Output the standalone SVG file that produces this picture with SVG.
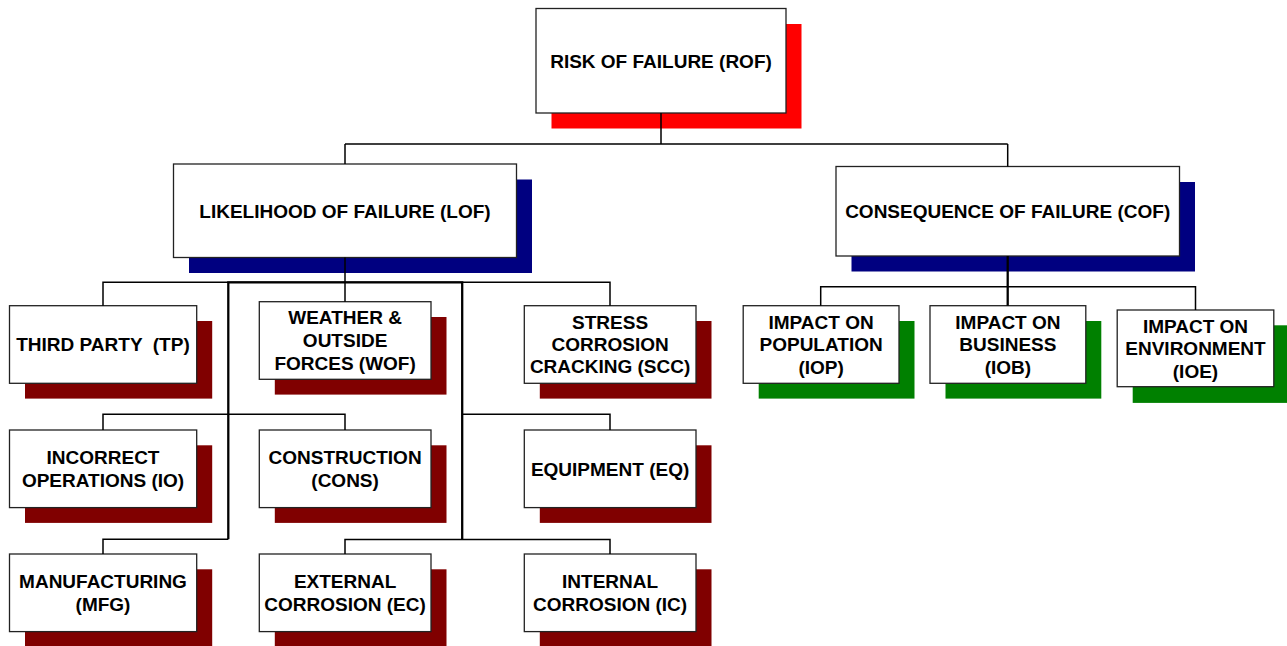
<svg xmlns="http://www.w3.org/2000/svg" width="1287" height="646" viewBox="0 0 1287 646">
<style>
.box{fill:#ffffff;stroke:#222222;stroke-width:1.3}
.sr{fill:#ff0000}
.sb{fill:#000080}
.sm{fill:#800000}
.sg{fill:#008000}
text{font-family:"Liberation Sans",Arial,sans-serif;font-weight:bold;font-size:19px;fill:#000000;text-anchor:middle}
.ln{fill:none;stroke:#000000;stroke-width:1.5}
.fr{fill:none;stroke:#000000;stroke-width:2.3}
</style>
<rect width="1287" height="646" fill="#ffffff"/>
<g id="rof">
<rect class="sr" x="551.5" y="24" width="250" height="104.5"/>
<rect class="box" x="536" y="8.5" width="250" height="104.5"/>
<text x="661" y="67.5">RISK OF FAILURE (ROF)</text>
</g>
<g id="lof">
<rect class="sb" x="189" y="179.5" width="343" height="93.5"/>
<rect class="box" x="173.5" y="164" width="343" height="93.5"/>
<text x="345" y="217.5">LIKELIHOOD OF FAILURE (LOF)</text>
</g>
<g id="cof">
<rect class="sb" x="851.5" y="182" width="343.5" height="89.5"/>
<rect class="box" x="836" y="166.5" width="343.5" height="89.5"/>
<text x="1007.7" y="218">CONSEQUENCE OF FAILURE (COF)</text>
</g>
<g id="tp">
<rect class="sm" x="25" y="321" width="187.2" height="77.6"/>
<rect class="box" x="9.5" y="305.7" width="187.2" height="77.6"/>
<text x="103" y="351.3" style="white-space:pre" xml:space="preserve">THIRD PARTY  (TP)</text>
</g>
<g id="wof">
<rect class="sm" x="274.8" y="317" width="171.7" height="77.6"/>
<rect class="box" x="259.3" y="301.7" width="171.7" height="77.6"/>
<text x="345.1" y="324.4">WEATHER &amp;</text>
<text x="345.1" y="347">OUTSIDE</text>
<text x="345.1" y="369.6">FORCES (WOF)</text>
</g>
<g id="scc">
<rect class="sm" x="539.8" y="321" width="171.7" height="77.6"/>
<rect class="box" x="524.3" y="305.7" width="171.7" height="77.6"/>
<text x="610.1" y="328.5">STRESS</text>
<text x="610.1" y="351">CORROSION</text>
<text x="610.1" y="373.4">CRACKING (SCC)</text>
</g>
<g id="io">
<rect class="sm" x="25" y="445.3" width="187.2" height="77.6"/>
<rect class="box" x="9.5" y="430" width="187.2" height="77.6"/>
<text x="103" y="464.2">INCORRECT</text>
<text x="103" y="486.9">OPERATIONS (IO)</text>
</g>
<g id="cons">
<rect class="sm" x="274.8" y="445.3" width="171.7" height="77.6"/>
<rect class="box" x="259.3" y="430" width="171.7" height="77.6"/>
<text x="345.1" y="464.2">CONSTRUCTION</text>
<text x="345.1" y="486.9">(CONS)</text>
</g>
<g id="eq">
<rect class="sm" x="539.8" y="445.3" width="171.7" height="77.6"/>
<rect class="box" x="524.3" y="430" width="171.7" height="77.6"/>
<text x="610.1" y="475.8">EQUIPMENT (EQ)</text>
</g>
<g id="mfg">
<rect class="sm" x="25" y="569.3" width="187.2" height="77.6"/>
<rect class="box" x="9.5" y="554" width="187.2" height="77.6"/>
<text x="103" y="588.3">MANUFACTURING</text>
<text x="103" y="611">(MFG)</text>
</g>
<g id="ec">
<rect class="sm" x="274.8" y="569.3" width="171.7" height="77.6"/>
<rect class="box" x="259.3" y="554" width="171.7" height="77.6"/>
<text x="345.1" y="588.3">EXTERNAL</text>
<text x="345.1" y="611">CORROSION (EC)</text>
</g>
<g id="ic">
<rect class="sm" x="539.8" y="569.3" width="171.7" height="77.6"/>
<rect class="box" x="524.3" y="554" width="171.7" height="77.6"/>
<text x="610.1" y="588.3">INTERNAL</text>
<text x="610.1" y="611">CORROSION (IC)</text>
</g>
<g id="iop">
<rect class="sg" x="758.7" y="321" width="155.8" height="77.6"/>
<rect class="box" x="743.2" y="305.7" width="155.8" height="77.6"/>
<text x="821.1" y="328.7">IMPACT ON</text>
<text x="821.1" y="351.3">POPULATION</text>
<text x="821.1" y="373.8">(IOP)</text>
</g>
<g id="iob">
<rect class="sg" x="945.5" y="321" width="155.8" height="77.6"/>
<rect class="box" x="930" y="305.7" width="155.8" height="77.6"/>
<text x="1007.9" y="328.7">IMPACT ON</text>
<text x="1007.9" y="351.3">BUSINESS</text>
<text x="1007.9" y="373.8">(IOB)</text>
</g>
<g id="ioe">
<rect class="sg" x="1132.7" y="325.3" width="156.6" height="77.6"/>
<rect class="box" x="1117.2" y="310" width="156.6" height="76.7"/>
<text x="1195.5" y="332.6">IMPACT ON</text>
<text x="1195.5" y="355.2">ENVIRONMENT</text>
<text x="1195.5" y="377.8">(IOE)</text>
</g>
<g id="connectors">
<path class="ln" d="M661 113 V144 M345 144 H1007.7 M345 144 V164 M1007.7 144 V166.5"/>
<path class="ln" d="M345 257.5 V301.7"/>
<path class="ln" d="M103 305.7 V282.3 H610 V305.7"/>
<path class="fr" d="M228.3 539.3 V282.3 H462.2 V540"/>
<path class="ln" d="M103 430 V414.3 H345 V430 M462.2 414.3 H610 V430"/>
<path class="ln" d="M103 554 V539.3 H228.3 M345 554 V539.5 H610 V554"/>
<path class="fr" d="M1007.7 256 V305.7"/>
<path class="ln" d="M820.7 305.7 V286.7 H1195.5 V310"/>
</g>
</svg>
